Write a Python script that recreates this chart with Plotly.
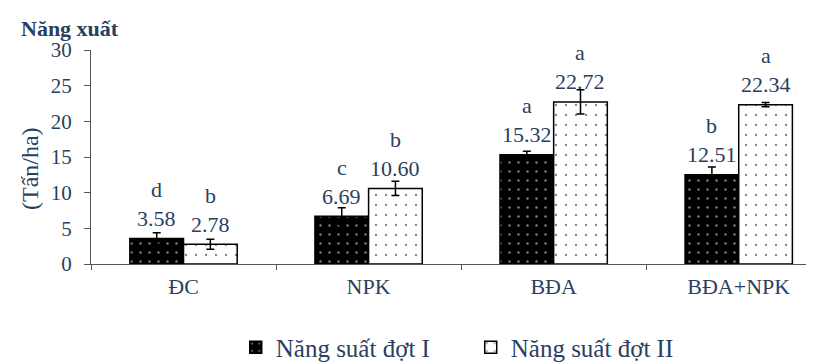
import plotly.graph_objects as go

categories = ["ĐC", "NPK", "BĐA", "BĐA+NPK"]
series_names = ["Năng suất đợt I", "Năng suất đợt II"]
yield_1 = [3.58, 6.69, 15.32, 12.51]
yield_2 = [2.78, 10.60, 22.72, 22.34]
err_1 = [0.8, 1.2, 0.5, 1.1]
err_2 = [0.7, 1.0, 1.7, 0.3]
letters_1 = ["d", "c", "a", "b"]
letters_2 = ["b", "b", "a", "a"]
y_ticks = [0, 5, 10, 15, 20, 25, 30]

FONT = "Liberation Serif"
BARGAP = 0.42
half = (1 - BARGAP) / 4

fig = go.Figure()
fig.add_trace(go.Bar(
    x=categories, y=yield_1, name=series_names[0],
    marker=dict(color="black", line=dict(color="black", width=1.5),
                pattern=dict(shape=".", fgcolor="white", bgcolor="black", size=9, solidity=0.06)),
    error_y=dict(type="data", array=err_1, color="black", thickness=1.5, width=4),
))
fig.add_trace(go.Bar(
    x=categories, y=yield_2, name=series_names[1],
    marker=dict(color="white", line=dict(color="black", width=1.5),
                pattern=dict(shape=".", fgcolor="black", bgcolor="white", size=10, solidity=0.04)),
    error_y=dict(type="data", array=err_2, color="black", thickness=1.5, width=4),
))

annotations = []
for i, c in enumerate(categories):
    for vals, lets, off in ((yield_1, letters_1, -half), (yield_2, letters_2, half)):
        v = vals[i]
        annotations.append(dict(x=i + off, y=v, xref="x", yref="y", text=f"{v:.2f}",
                                showarrow=False, yanchor="middle", yshift=20,
                                font=dict(family=FONT, size=22)))
        annotations.append(dict(x=i + off, y=v, xref="x", yref="y", text=lets[i],
                                showarrow=False, yanchor="middle", yshift=49,
                                font=dict(family=FONT, size=22)))

annotations.append(dict(x=0, y=1, xref="paper", yref="paper", xanchor="left", yanchor="middle",
                        text="<b>Năng xuất</b>", showarrow=False, xshift=-72, yshift=22,
                        font=dict(family=FONT, size=22)))
annotations.append(dict(x=0, y=0.5, xref="paper", yref="paper", xanchor="center", yanchor="middle",
                        text="(Tấn/ha)", textangle=-90, showarrow=False, xshift=-61, yshift=-12,
                        font=dict(family=FONT, size=24)))

fig.update_layout(
    width=814, height=363,
    margin=dict(l=83, r=0, t=42, b=101),
    paper_bgcolor="white", plot_bgcolor="white",
    barmode="group", bargap=BARGAP, bargroupgap=0,
    font=dict(family=FONT, size=21),
    showlegend=True,
    legend=dict(orientation="h", x=0.198, y=-0.39, xanchor="left", yanchor="middle",
                font=dict(family=FONT, size=25),
                entrywidth=190, entrywidthmode="pixels", traceorder="normal"),
    annotations=annotations,
)
fig.update_xaxes(range=[-0.5, 3.45], showline=True, linecolor="#555", linewidth=1,
                 ticks="outside", tickson="boundaries", ticklen=5, tickcolor="#555",
                 showgrid=False, tickfont=dict(family=FONT, size=22), ticklabelstandoff=3)
fig.update_yaxes(range=[0, 30], tickvals=y_ticks, showline=True, linecolor="#555", linewidth=1,
                 ticks="outside", ticklen=6, tickcolor="#555", showgrid=False, zeroline=False,
                 tickfont=dict(family=FONT, size=21), ticklabelstandoff=8)

fig.write_html("out.html")
